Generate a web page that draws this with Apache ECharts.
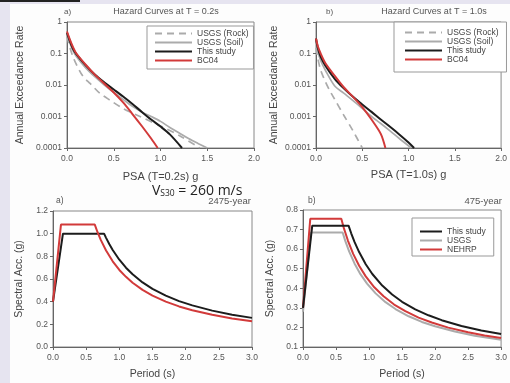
<!DOCTYPE html>
<html>
<head>
<meta charset="utf-8">
<script src="https://cdn.jsdelivr.net/npm/echarts@6/dist/echarts.min.js"></script>
<style>
html,body{margin:0;padding:0;background:#e6e4f0;}
#c{width:510px;height:383px;}
</style>
</head>
<body>
<div id="c"></div>
<script>
// ---------- DATA ----------
// Hazard curves, T = 0.2 s  [PSA (g), annual exceedance rate]
const rock02  = [[0,0.35],[0.03,0.16],[0.06,0.085],[0.1,0.045],[0.17,0.019],[0.25,0.011],[0.35,0.0055],[0.46,0.0033],[0.6,0.0018],[0.78,0.001],[1.0,0.0005],[1.2,0.00025],[1.42,0.0001]];
const soil02  = [[0,0.4],[0.03,0.22],[0.06,0.13],[0.1,0.08],[0.2,0.035],[0.3,0.018],[0.4,0.01],[0.5,0.0058],[0.6,0.0035],[0.7,0.0021],[0.8,0.0014],[0.9,0.001],[1.0,0.0007],[1.1,0.00045],[1.2,0.0003],[1.3,0.0002],[1.4,0.00014],[1.5,0.0001]];
const study02 = [[0,0.45],[0.03,0.25],[0.06,0.15],[0.1,0.095],[0.2,0.042],[0.3,0.021],[0.4,0.012],[0.5,0.0072],[0.6,0.0043],[0.7,0.0025],[0.8,0.0014],[0.9,0.0008],[1.0,0.00048],[1.1,0.00027],[1.23,0.0001]];
const bc02    = [[0,0.5],[0.03,0.28],[0.06,0.17],[0.1,0.1],[0.2,0.044],[0.3,0.021],[0.4,0.011],[0.5,0.0058],[0.6,0.0028],[0.7,0.0012],[0.8,0.0005],[0.9,0.0002],[0.97,0.0001]];
// Hazard curves, T = 1.0 s
const rock10  = [[0,0.15],[0.02,0.07],[0.05,0.03],[0.1,0.013],[0.15,0.0065],[0.2,0.0036],[0.3,0.0011],[0.4,0.00035],[0.5,0.0001]];
const soil10  = [[0,0.25],[0.02,0.12],[0.05,0.06],[0.1,0.03],[0.2,0.0095],[0.3,0.0055],[0.4,0.0032],[0.5,0.0018],[0.6,0.001],[0.7,0.0006],[0.8,0.00035],[0.9,0.0002],[1.03,0.0001]];
const study10 = [[0,0.3],[0.02,0.15],[0.05,0.08],[0.1,0.042],[0.2,0.016],[0.3,0.0078],[0.4,0.0042],[0.5,0.0024],[0.6,0.0014],[0.7,0.0008],[0.8,0.00047],[0.9,0.00027],[1.0,0.00015],[1.06,0.0001]];
const bc10    = [[0,0.3],[0.02,0.17],[0.05,0.1],[0.1,0.05],[0.2,0.02],[0.3,0.0085],[0.4,0.0042],[0.5,0.002],[0.6,0.0008],[0.7,0.00028],[0.75,0.0001]];
// Design spectra, 2475-year [Period (s), SA (g)]
const study2475 = [[0,0.4],[0.15,1.0],[0.77,1.0],[0.8,0.963],[0.85,0.906],[0.9,0.856],[1.0,0.77],[1.1,0.7],[1.2,0.642],[1.35,0.57],[1.5,0.513],[1.7,0.453],[1.9,0.405],[2.1,0.367],[2.4,0.321],[2.7,0.285],[3.0,0.257]];
const nehrp2475 = [[0,0.4],[0.12,1.08],[0.63,1.08],[0.67,1.015],[0.72,0.945],[0.8,0.851],[0.9,0.756],[1.0,0.68],[1.1,0.619],[1.2,0.567],[1.35,0.504],[1.5,0.454],[1.7,0.4],[1.9,0.358],[2.1,0.324],[2.4,0.284],[2.7,0.252],[3.0,0.227]];
// Design spectra, 475-year
const study475 = [[0,0.3],[0.14,0.72],[0.69,0.72],[0.73,0.681],[0.78,0.637],[0.85,0.585],[0.95,0.523],[1.05,0.473],[1.2,0.414],[1.35,0.368],[1.5,0.331],[1.7,0.292],[1.9,0.262],[2.1,0.237],[2.4,0.207],[2.7,0.184],[3.0,0.166]];
const usgs475  = [[0,0.28],[0.12,0.685],[0.6,0.685],[0.64,0.642],[0.7,0.587],[0.78,0.527],[0.87,0.472],[0.97,0.424],[1.1,0.374],[1.25,0.329],[1.4,0.294],[1.6,0.257],[1.8,0.228],[2.0,0.206],[2.3,0.179],[2.6,0.158],[3.0,0.137]];
const nehrp475 = [[0,0.3],[0.11,0.755],[0.58,0.755],[0.62,0.706],[0.68,0.644],[0.76,0.576],[0.85,0.515],[0.95,0.461],[1.08,0.405],[1.22,0.359],[1.38,0.317],[1.55,0.283],[1.75,0.25],[1.95,0.225],[2.2,0.199],[2.5,0.175],[2.75,0.159],[3.0,0.146]];

const hazardTicks = {'1':'1','0.1':'0.1','0.01':'0.01','0.001':'0.001','0.0001':'0.0001'};

// ---------- STYLE ----------
const FONT = 'Liberation Sans, Arial, sans-serif';
const TXT = '#555';
const AX = '#666';
const BLACK = '#1c1c1c', RED = '#d23a3a', GRAY = '#ababab';

function xAx(grid, max, name, gap, fs){
  return {type:'value', gridIndex:grid, min:0, max:max, interval:0.5,
    name:name, nameLocation:'middle', nameGap:gap,
    nameTextStyle:{color:'#444', fontFamily:FONT, fontSize:fs},
    axisLine:{show:true, onZero:false, lineStyle:{color:AX}},
    axisTick:{show:true, length:3, lineStyle:{color:AX}},
    axisLabel:{color:TXT, fontFamily:FONT, fontSize:8.5, margin:6, formatter:v=>v.toFixed(1)},
    splitLine:{show:false}};
}
function yVal(grid, min, max, itv, gap){
  return {type:'value', gridIndex:grid, min:min, max:max, interval:itv,
    name:'Spectral Acc. (g)', nameLocation:'middle', nameGap:gap,
    nameTextStyle:{color:'#444', fontFamily:FONT, fontSize:10.5},
    axisLine:{show:true, lineStyle:{color:AX}},
    axisTick:{show:true, length:3, lineStyle:{color:AX}},
    axisLabel:{color:TXT, fontFamily:FONT, fontSize:8.5, margin:5, formatter:v=>v.toFixed(1)},
    splitLine:{show:false}};
}
function yLog(grid, gap){
  return {type:'log', logBase:10, gridIndex:grid, min:0.0001, max:1,
    name:'Annual Exceedance Rate', nameLocation:'middle', nameGap:gap,
    nameTextStyle:{color:'#444', fontFamily:FONT, fontSize:10.5},
    axisLine:{show:true, lineStyle:{color:AX}},
    axisTick:{show:true, length:3, lineStyle:{color:AX}},
    axisLabel:{color:TXT, fontFamily:FONT, fontSize:8.5, margin:5,
      formatter:v=>{const k=String(+v.toPrecision(3)); return hazardTicks[k]!==undefined?hazardTicks[k]:k;}},
    minorTick:{show:false},
    splitLine:{show:false}};
}
function ser(name, data, xi, color, width, dashed, smooth){
  return {type:'line', name:name, data:data, xAxisIndex:xi, yAxisIndex:xi,
    symbol:'none', smooth:smooth, animation:false, z: (color===GRAY?2:3),
    lineStyle:{color:color, width:width, type:dashed?[7,5]:'solid'},
    itemStyle:{color:color}};
}
function legendBox(left, top, names, pad, iw, fs){
  return {show:true, orient:'vertical', left:left, top:top, data:names,
    itemWidth:iw, itemHeight:10, itemGap:0, padding:pad,
    backgroundColor:'#fff', borderColor:'#999', borderWidth:1, borderRadius:0,
    selectedMode:false,
    itemStyle:{color:'rgba(0,0,0,0)', borderColor:'rgba(0,0,0,0)', borderWidth:0, opacity:0},
    textStyle:{color:'#444', fontFamily:FONT, fontSize:fs}};
}
function txt(x, y, s, size, align, color){
  return {type:'text', x:x, y:y, silent:true,
    style:{text:s, fill:color||'#555', fontFamily:FONT, fontSize:size, align:align||'left', verticalAlign:'middle'}};
}

const chart = echarts.init(document.getElementById('c'), null, {renderer:'canvas'});
chart.setOption({
  backgroundColor:'#e6e4f0',
  animation:false,
  grid:[
    {left:67, top:22, width:187, height:126, show:true, borderColor:'#888', borderWidth:1, backgroundColor:'#fff'},
    {left:316, top:22, width:188, height:126, show:true, borderColor:'#888', borderWidth:1, backgroundColor:'#fff'},
    {left:53, top:211, width:199, height:136, show:true, borderColor:'#888', borderWidth:1, backgroundColor:'#fff'},
    {left:303, top:210, width:199, height:137, show:true, borderColor:'#888', borderWidth:1, backgroundColor:'#fff'}
  ],
  xAxis:[
    xAx(0, 2, 'PSA (T=0.2s) g', 23, 11),
    xAx(1, 2, 'PSA (T=1.0s) g', 21, 11),
    xAx(2, 3, 'Period (s)', 22, 10.5),
    xAx(3, 3, 'Period (s)', 22, 10.5)
  ],
  yAxis:[
    yLog(0, 41),
    yLog(1, 36),
    yVal(2, 0, 1.2, 0.2, 28),
    yVal(3, 0.1, 0.8, 0.1, 27)
  ],
  legend:[
    legendBox(147, 26, ['USGS (Rock)','USGS (Soil)','This study','BC04'], [3,5,4,7], 37, 8.5),
    legendBox(394, 22, ['USGS (Rock)','USGS (Soil)','This study','BC04'], [6,8,8,10], 37, 8.5),
    legendBox(412, 218, ['This study','USGS','NEHRP'], [9,8,2,7], 22, 8.5)
  ],
  graphic:[
    {type:'rect', z:-10, silent:true, shape:{x:10, y:4, width:500, height:379}, style:{fill:'#fdfdfd'}},
    {type:'rect', z:-9, silent:true, shape:{x:0, y:0, width:80, height:2}, style:{fill:'#222'}},
    txt(64, 12, 'a)', 8),
    txt(166, 12, 'Hazard Curves at T = 0.2s', 9, 'center'),
    txt(326, 12, 'b)', 8),
    txt(434, 12, 'Hazard Curves at T = 1.0s', 9, 'center'),
    txt(56, 201, 'a)', 8.5),
    txt(251, 201, '2475-year', 9.5, 'right'),
    txt(308, 201, 'b)', 8.5),
    txt(502, 201, '475-year', 9.5, 'right'),
    {type:'text', x:152, y:190, silent:true,
      style:{text:'{v|V}{s|S30}{v| = 260 m/s}', fontFamily:'Open Sans, Liberation Sans, sans-serif', verticalAlign:'middle',
        rich:{v:{fontSize:14, fill:'#222', fontFamily:'Open Sans, Liberation Sans, sans-serif', verticalAlign:'bottom', lineHeight:17},
              s:{fontSize:8.5, fill:'#222', fontFamily:'Open Sans, Liberation Sans, sans-serif', verticalAlign:'bottom', lineHeight:12}}}}
  ],
  series:[
    ser('USGS (Rock)', rock02, 0, GRAY, 1.7, true, 0.3),
    ser('USGS (Soil)', soil02, 0, GRAY, 1.7, false, 0.3),
    ser('This study', study02, 0, BLACK, 2, false, 0.3),
    ser('BC04', bc02, 0, RED, 2, false, 0.3),
    ser('USGS (Rock)', rock10, 1, GRAY, 1.7, true, 0.3),
    ser('USGS (Soil)', soil10, 1, GRAY, 1.7, false, 0.3),
    ser('This study', study10, 1, BLACK, 2, false, 0.3),
    ser('BC04', bc10, 1, RED, 2, false, 0.3),
    ser('This study', study2475, 2, BLACK, 2, false, false),
    ser('NEHRP', nehrp2475, 2, RED, 2, false, false),
    ser('USGS', usgs475, 3, GRAY, 2, false, false),
    ser('NEHRP', nehrp475, 3, RED, 2, false, false),
    ser('This study', study475, 3, BLACK, 2, false, false)
  ]
});
</script>
</body>
</html>
